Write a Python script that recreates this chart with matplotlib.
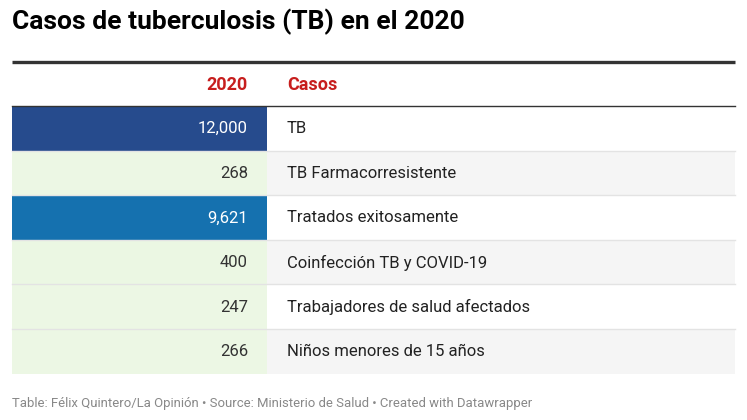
import matplotlib
matplotlib.use('Agg')
import matplotlib.pyplot as plt
from matplotlib.patches import Rectangle
from matplotlib.colors import LinearSegmentedColormap, to_rgb

plt.rcParams['font.family'] = ['Roboto', 'DejaVu Sans']

# data
categories = ['TB', 'TB Farmacorresistente', 'Tratados exitosamente',
              'Coinfección TB y COVID-19', 'Trabajadores de salud afectados',
              'Niños menores de 15 años']
values_2020 = [12000, 268, 9621, 400, 247, 266]
col_headers = ['2020', 'Casos']

W, H = 747, 420
fig = plt.figure(figsize=(W / 100, H / 100), dpi=100)
ax = fig.add_axes([0, 0, 1, 1])
ax.set_xlim(0, W)
ax.set_ylim(H, 0)
ax.axis('off')

cmap = LinearSegmentedColormap.from_list(
    'dw', [(0, '#eef8e6'), (0.05, '#eaf6e2'), (0.8, '#1572b0'), (1, '#264b8d')])
vmax = max(values_2020)

left, right, split = 12, 735, 267
top_line, head_bottom = 62, 106
row_h = 44.6

ax.text(12, 22, 'Casos de tuberculosis (TB) en el 2020', ha='left', va='center',
        fontsize=19, fontweight='bold', color='#000000')

ax.plot([left, right], [top_line, top_line], color='#333333', lw=2.4,
        solid_capstyle='butt')
ax.text(248, 85, col_headers[0], ha='right', va='center', fontsize=13,
        fontweight='bold', color='#c71e1d')
ax.text(287, 85, col_headers[1], ha='left', va='center', fontsize=13,
        fontweight='bold', color='#c71e1d')

for i, (cat, val) in enumerate(zip(categories, values_2020)):
    y0 = head_bottom + i * row_h
    fc = cmap(val / vmax)
    ax.add_patch(Rectangle((left, y0), split - left, row_h, facecolor=fc,
                           edgecolor='none', zorder=1))
    bg = '#f5f5f5' if i % 2 == 1 else '#ffffff'
    ax.add_patch(Rectangle((split, y0), right - split, row_h, facecolor=bg,
                           edgecolor='none', zorder=1))
    if i > 0:
        ax.plot([left, right], [y0, y0], color='#e3e3e3', lw=1, zorder=2)
    lum = sum(c * w for c, w in zip(to_rgb(fc), (0.299, 0.587, 0.114)))
    tc = '#ffffff' if lum < 0.55 else '#333333'
    ax.text(248, y0 + row_h / 2 + 0.5, f'{val:,}', ha='right', va='center',
            fontsize=12, color=tc, zorder=3)
    ax.text(287, y0 + row_h / 2 + 0.5, cat, ha='left', va='center',
            fontsize=12, color='#222222', zorder=3)

ax.plot([left, right], [head_bottom, head_bottom], color='#333333', lw=1,
        zorder=4)

ax.text(12, 404, 'Table: Félix Quintero/La Opinión • Source: Ministerio de Salud • Created with Datawrapper',
        ha='left', va='center', fontsize=9.45, color='#888888')

fig.savefig('out.png', dpi=100, facecolor='white')
